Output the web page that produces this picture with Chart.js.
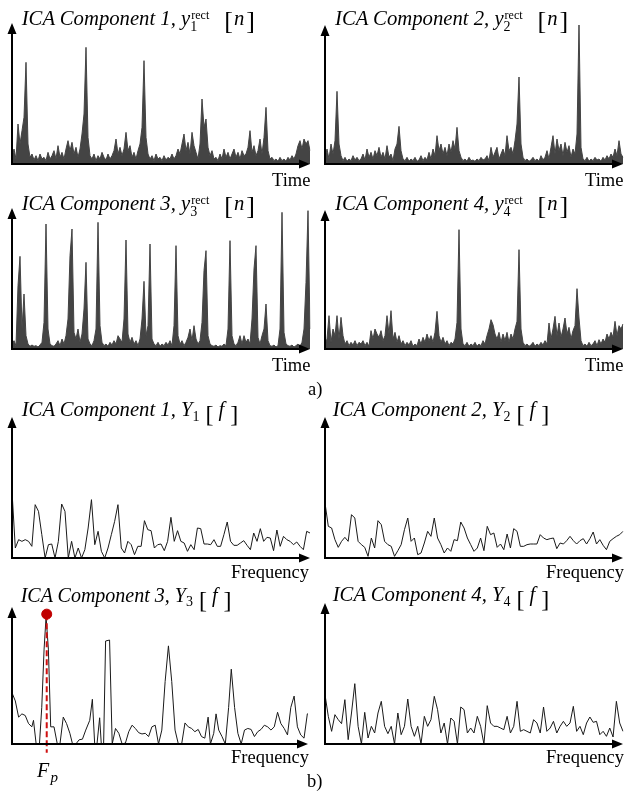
<!DOCTYPE html>
<html>
<head>
<meta charset="utf-8">
<script src="https://cdn.jsdelivr.net/npm/chart.js@4.4.1/dist/chart.umd.min.js"></script>
<style>
  body { margin: 0; background: #fff; }
  #page { position: relative; width: 625px; height: 793px; overflow: hidden; background: #fff; color: #000; }
  canvas { position: absolute; }
  .lab { position: absolute; line-height: 1; white-space: nowrap; font-family: 'Liberation Serif', 'Times New Roman', serif; }
  .ttl { font-style: italic; }
  .ss { display: inline-block; position: relative; width: 34px; height: 0; }
  .ss2 { display: inline-block; position: relative; width: 13px; height: 0; }
  .sp { position: absolute; left: 1px; bottom: 4px; font-size: 12px; font-style: normal; line-height: 1; }
  .sb { position: absolute; left: 0; top: -5px; font-size: 14px; font-style: normal; line-height: 1; }
  .sb2 { position: absolute; left: 0; top: -6.7px; font-size: 14px; font-style: normal; line-height: 1; }
  .br { font-style: normal; font-size: 26px; line-height: 0; position: relative; top: 4.3px; }
  .ttl2 .br { font-size: 24px; top: 6px; }
  .arg { margin: 0 2px 0 1px; }
  .ttl2 .arg { margin: 0 6px 0 5px; }
</style>
</head>
<body>
<div id="page"></div>
<script>
// ---- time signals y_k^rect[n] (amplitude, arbitrary units) ----
var timeSig1 = [20,45,15,120,60,100,140,305,60,20, 30,12,25,10,30,15,20,10,35,15, 25,40,15,55,20,35,15,45,70,40,
  65,30,50,20,45,90,150,350,80,25, 15,30,10,25,15,35,20,12,30,15, 25,40,75,30,50,25,45,95,40,55,
  20,35,15,40,60,110,310,80,30,15, 25,10,30,15,20,10,25,12,20,15, 30,15,25,45,30,60,90,40,65,30,
  95,55,35,15,60,195,110,135,50,25, 40,15,20,10,30,15,45,20,35,15, 30,45,20,35,15,40,25,30,50,100,
  35,55,25,40,75,30,80,170,40,15, 20,10,15,8,20,10,15,8,20,12, 25,15,30,55,70,45,75,60,70,40];
var timeSig2 = [20,45,15,60,30,70,218,60,25,10, 20,8,15,10,25,12,20,10,15,30, 12,45,20,35,15,40,25,50,20,35,
  15,55,20,30,10,45,60,113,40,15, 10,20,8,15,10,20,8,12,25,10, 20,12,35,15,45,25,85,40,60,30,
  50,25,60,35,70,45,110,40,20,10, 15,8,20,10,12,8,15,10,20,12, 15,25,10,50,20,35,50,15,30,45,
  25,85,40,50,30,70,120,261,60,20, 10,15,8,12,20,10,15,8,25,12, 20,40,15,50,85,30,75,40,60,25,
  65,35,55,20,45,30,90,421,50,15, 10,20,8,15,10,20,12,15,8,20, 12,25,15,30,20,45,25,70,30,20];
var timeSig3 = [15,25,10,190,278,60,165,40,15,8, 12,8,10,6,12,20,80,375,60,15, 10,8,15,25,10,30,15,40,90,280,
  360,50,30,60,20,45,120,260,30,15, 10,25,60,380,70,20,10,15,8,20, 12,25,15,40,30,20,90,327,45,20,
  35,15,25,10,30,90,203,40,70,315, 30,15,10,20,8,15,10,20,12,25, 10,70,310,40,15,25,10,20,35,60,
  25,70,30,15,25,80,235,295,40,15, 10,8,12,6,10,8,15,10,60,325, 40,15,10,20,40,15,40,20,30,15,
  90,240,310,35,15,40,60,135,25,10, 8,12,6,10,60,410,50,15,10,8, 12,6,10,15,8,20,60,200,415,60];
var timeSig4 = [15,30,100,20,60,40,100,30,95,40, 15,25,10,20,12,25,10,20,15,25, 10,20,8,55,30,60,45,35,55,25,
  40,100,45,115,30,50,20,40,15,25, 10,20,12,25,8,15,10,30,15,35, 20,45,25,40,20,50,113,40,20,35,
  15,25,10,20,15,30,80,358,60,15, 10,20,8,15,10,20,8,15,10,25, 15,40,60,88,73,45,30,50,20,45,
  25,50,20,45,30,60,83,298,60,20, 10,15,8,12,20,8,15,10,20,12, 25,15,78,30,60,98,40,78,35,60,
  93,45,65,30,55,70,181,93,25,10, 15,8,20,10,15,25,10,28,15,30, 20,45,30,50,35,83,40,70,60,75];

// ---- magnitude spectra Y_k[f] (uniform frequency bins) ----
var spec1 = [200,30,55,50,55,50,35,160,140,70, 0,40,42,0,50,162,140,0,50,0, 30,0,25,90,175,40,80,20,0,30,
  70,110,160,30,15,50,40,10,35,35, 112,85,82,30,40,42,22,50,122,50, 82,50,45,20,40,25,90,88,42,42,
  40,55,35,35,70,108,50,38,38,45, 52,38,25,75,50,88,50,62,60,22, 84,35,65,55,50,40,48,35,25,80, 75];
var spec2 = [165,95,90,55,32,50,62,50,130,120, 50,40,32,5,60,30,112,100,50,40, 35,5,22,40,85,120,50,60,10,15,
  45,80,65,120,60,40,15,30,20,55, 52,108,90,60,40,20,30,60,22,95, 70,75,32,42,25,72,30,88,80,35,
  35,40,42,42,42,70,60,55,58,60, 28,45,42,52,65,52,42,52,58,42, 58,78,42,55,38,25,50,58,65,70, 80];
var spec4 = [148,83,38,88,73,61,133,13,93,181, 53,0,95,18,53,33,93,128,53,31, 53,0,93,28,53,135,53,23,53,0,
  83,53,73,143,103,33,63,0,78,68, 0,111,103,33,48,33,83,53,0,115, 63,53,53,48,43,83,33,53,128,38,
  43,38,33,73,63,33,111,38,48,68, 33,53,68,53,63,113,38,53,28,63, 81,65,68,28,38,23,48,21,128,63, 38];
// spectrum 3 has its own frequency positions
var spec3Freq = [0,10,20,30,40,50,60,65,73,83, 90,97,103,110,117,127,137,145,155,165, 175,183,193,203,213,223,235,243,250,257,
  265,270,277,283,295,303,313,323,333,343, 353,363,373,383,393,403,413,423,433,443, 453,463,473,483,493,503,513,523,533,543,
  553,563,573,583,593,600,610,617,625,635, 645,655,663,673,683,693,703,713,723,733, 743,753,763,773,783,793,803,813,823,833,
  843,853,863,873,883,893,898];
var spec3 = [158,133,83,93,88,63,53,73,0,0, 113,293,393,293,53,53,0,0,83,63, 33,0,0,13,15,43,73,138,0,0,
  81,0,0,318,321,0,48,33,0,3, 38,58,48,35,31,33,23,53,58,0, 43,193,303,193,43,0,0,65,53,48,
  38,45,23,18,83,0,33,93,43,23, 0,113,231,113,33,0,43,48,45,23, 38,45,58,53,43,53,98,63,48,28,
  113,148,53,28,18,93,95];
// pitch peak F_p
var peakFreq = 105;
var peakMag = 401;

var page = document.getElementById('page');

function idx(n) {
    var a = [];
    for (var i = 0; i < n; i++) a.push(i);
    return a;
}

function label(html, x, base, size, cls) {
    var d = document.createElement('div');
    d.className = 'lab' + (cls ? ' ' + cls : '');
    d.style.fontSize = size + 'px';
    d.style.left = x + 'px';
    d.style.top = (base - 0.8375 * size) + 'px';
    d.innerHTML = html;
    page.appendChild(d);
}

// axes with arrow heads, drawn on the chart area edges
var arrowAxes = {
    id: 'arrowAxes',
    afterDatasetsDraw: function(chart) {
        var ctx = chart.ctx, a = chart.chartArea;
        ctx.save();
        ctx.strokeStyle = '#000';
        ctx.fillStyle = '#000';
        ctx.lineWidth = 2;
        ctx.beginPath();
        ctx.moveTo(a.left, a.bottom + 1);
        ctx.lineTo(a.left, a.top + 8);
        ctx.moveTo(a.left - 1, a.bottom);
        ctx.lineTo(a.right - 8, a.bottom);
        ctx.stroke();
        ctx.beginPath();
        ctx.moveTo(a.left, a.top);
        ctx.lineTo(a.left - 4.5, a.top + 11);
        ctx.lineTo(a.left + 4.5, a.top + 11);
        ctx.closePath();
        ctx.moveTo(a.right, a.bottom);
        ctx.lineTo(a.right - 11, a.bottom - 4.5);
        ctx.lineTo(a.right - 11, a.bottom + 4.5);
        ctx.closePath();
        ctx.fill();
        ctx.restore();
    }
};

function makeChart(box, datasets, xScale) {
    var c = document.createElement('canvas');
    var pb = box.pb || 8;
    c.width = box.rx - box.ox + 12;
    c.height = box.oy - box.ty + 2 + pb;
    c.style.left = (box.ox - 8) + 'px';
    c.style.top = (box.ty - 2) + 'px';
    page.appendChild(c);
    return new Chart(c.getContext('2d'), {
        type: 'line',
        data: { labels: box.labels, datasets: datasets },
        options: {
            responsive: false,
            animation: false,
            events: [],
            devicePixelRatio: 1,
            layout: { padding: { left: 8, top: 2, right: 4, bottom: pb } },
            plugins: { legend: { display: false }, tooltip: { enabled: false } },
            scales: {
                x: xScale || { display: false },
                y: { display: false, min: 0, max: box.ymax }
            }
        },
        plugins: [arrowAxes]
    });
}

function timeSet(values) {
    return {
        data: values,
        borderColor: '#444444',
        backgroundColor: '#444444',
        borderWidth: 1,
        fill: 'origin',
        pointRadius: 0,
        tension: 0
    };
}

function specSet(values) {
    return {
        data: values,
        borderColor: '#1a1a1a',
        borderWidth: 1,
        fill: false,
        pointRadius: 0,
        tension: 0
    };
}

// time panels
makeChart({ ox: 12, oy: 164, ty: 23, rx: 310, ymax: 423, labels: idx(timeSig1.length) }, [timeSet(timeSig1)]);
makeChart({ ox: 325, oy: 164, ty: 25, rx: 623, ymax: 417, labels: idx(timeSig2.length) }, [timeSet(timeSig2)]);
makeChart({ ox: 12, oy: 349, ty: 208, rx: 310, ymax: 423, labels: idx(timeSig3.length) }, [timeSet(timeSig3)]);
makeChart({ ox: 325, oy: 349, ty: 210, rx: 623, ymax: 417, labels: idx(timeSig4.length) }, [timeSet(timeSig4)]);

// spectrum panels
makeChart({ ox: 12, oy: 558, ty: 417, rx: 310, ymax: 423, labels: idx(spec1.length) }, [specSet(spec1)]);
makeChart({ ox: 325, oy: 558, ty: 417, rx: 623, ymax: 423, labels: idx(spec2.length) }, [specSet(spec2)]);

var spec3Pts = spec3Freq.map(function(f, i) { return { x: f, y: spec3[i] }; });
makeChart({ ox: 12, oy: 744, ty: 603, rx: 310, ymax: 423, pb: 14 }, [
    { data: [{ x: peakFreq, y: peakMag }], showLine: false, pointRadius: 5, pointBackgroundColor: '#c00000', pointBorderColor: '#c00000', clip: false },
    { data: [{ x: peakFreq, y: peakMag }, { x: peakFreq, y: -27 }], borderColor: '#d01010', borderWidth: 2, borderDash: [6, 3], pointRadius: 0, fill: false, clip: false },
    specSet(spec3Pts)
], { type: 'linear', display: false, min: 0, max: 895 });

makeChart({ ox: 325, oy: 744, ty: 603, rx: 623, ymax: 423, labels: idx(spec4.length) }, [specSet(spec4)]);

// titles
function timeTitle(k) {
    return 'ICA Component ' + k + ', <i>y</i><span class="ss"><span class="sp">rect</span><span class="sb">' + k +
        '</span></span><span class="br">[</span><i class="arg">n</i><span class="br">]</span>';
}
function specTitle(k) {
    return 'ICA Component ' + k + ', <i>Y</i><span class="ss2"><span class="sb2">' + k +
        '</span></span><span class="br">[</span><i class="arg">f</i><span class="br">]</span>';
}
label(timeTitle(1), 21.7, 25, 20.7, 'ttl');
label(timeTitle(2), 335, 25, 20.7, 'ttl');
label(timeTitle(3), 21.7, 210, 20.7, 'ttl');
label(timeTitle(4), 335, 210, 20.7, 'ttl');
label(specTitle(1), 21.7, 416.7, 20.7, 'ttl ttl2');
label(specTitle(2), 332.7, 416.7, 20.7, 'ttl ttl2');
label(specTitle(3), 20.7, 601.7, 20, 'ttl ttl2');
label(specTitle(4), 332.7, 601.7, 20.7, 'ttl ttl2');

// axis names
label('Time', 272, 186, 18.5);
label('Time', 585, 186, 18.5);
label('Time', 272, 371.7, 18.5);
label('Time', 585, 371.7, 18.5);
label('Frequency', 231, 578, 18.5);
label('Frequency', 546, 578, 18.5);
label('Frequency', 231, 763, 18.5);
label('Frequency', 546, 763, 18.5);

label('a)', 308, 395, 18.5);
label('b)', 307, 787.5, 18.5);
label('<i>F</i>', 37, 777, 20);
label('<i>p</i>', 50.5, 782.5, 15);
</script>
</body>
</html>
